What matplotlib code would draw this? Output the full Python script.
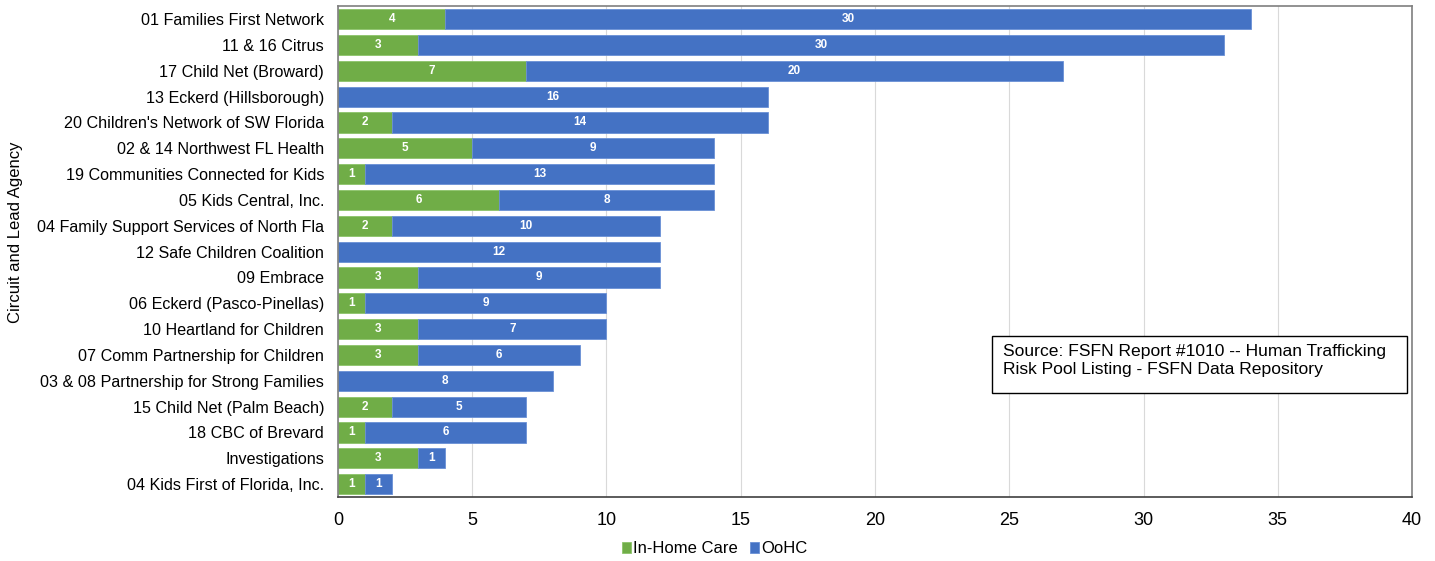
import matplotlib.pyplot as plt
import numpy as np
from matplotlib.patches import Rectangle

agencies = [
    '01 Families First Network', '11 & 16 Citrus', '17 Child Net (Broward)',
    '13 Eckerd (Hillsborough)', "20 Children's Network of SW Florida",
    '02 & 14 Northwest FL Health', '19 Communities Connected for Kids',
    '05 Kids Central, Inc.', '04 Family Support Services of North Fla',
    '12 Safe Children Coalition', '09 Embrace', '06 Eckerd (Pasco-Pinellas)',
    '10 Heartland for Children', '07 Comm Partnership for Children',
    '03 & 08 Partnership for Strong Families', '15 Child Net (Palm Beach)',
    '18 CBC of Brevard', 'Investigations', '04 Kids First of Florida, Inc.',
]
in_home = [4, 3, 7, 0, 2, 5, 1, 6, 2, 0, 3, 1, 3, 3, 0, 2, 1, 3, 1]
oohc = [30, 30, 20, 16, 14, 9, 13, 8, 10, 12, 9, 9, 7, 6, 8, 5, 6, 1, 1]

plt.rcParams['font.family'] = ['Liberation Sans', 'DejaVu Sans']

green = '#70AD47'
blue = '#4472C4'

fig = plt.figure(figsize=(14.35, 5.61), dpi=100)
ax = fig.add_axes([0.2355, 0.114, 0.7485, 0.875])

y = np.arange(len(agencies))
h = 0.78
b1 = ax.barh(y, in_home, height=h, color=green, edgecolor='#8cc46a', linewidth=0.6, label='In-Home Care')
b2 = ax.barh(y, oohc, left=in_home, height=h, color=blue, edgecolor='#6a90d6', linewidth=0.6, label='OoHC')

# value labels inside each segment
for bars, vals in ((b1, in_home), (b2, oohc)):
    for rect, v in zip(bars, vals):
        if v > 0:
            ax.text(rect.get_x() + rect.get_width() / 2, rect.get_y() + rect.get_height() / 2, str(v),
                    ha='center', va='center', color='white', fontsize=8.5, fontweight='bold')

ax.set_xlim(0, 40)
ax.set_ylim(len(agencies) - 0.5, -0.5)
ax.set_xticks(range(0, 41, 5))
ax.set_yticks(y)
ax.set_yticklabels(agencies, fontsize=11.6)
ax.tick_params(axis='x', labelsize=13, length=0, pad=11)
ax.tick_params(axis='y', length=0, pad=10)
ax.xaxis.grid(True, color='#d9d9d9', linewidth=0.8)
ax.set_axisbelow(True)
for s in ax.spines.values():
    s.set_color('#7f7f7f')
    s.set_linewidth(1.2)
ax.spines['bottom'].set_color('#404040')

fig.text(0.0105, 0.586, 'Circuit and Lead Agency', rotation=90, fontsize=12, ha='center', va='center')

# source note box
ax.add_patch(Rectangle((0.609, 0.212), 0.3863, 0.116, transform=ax.transAxes,
                       facecolor='white', edgecolor='black', linewidth=1, zorder=5))
ax.text(0.619, 0.312, 'Source: FSFN Report #1010 -- Human Trafficking\nRisk Pool Listing - FSFN Data Repository',
        transform=ax.transAxes, fontsize=12.6, va='top', ha='left', linespacing=1.3, zorder=6)

fig.legend(handles=[b1, b2], loc='center', bbox_to_anchor=(0.498, 0.022), ncol=2, frameon=False,
           fontsize=12, handlelength=0.55, handleheight=0.6, handletextpad=0.15, columnspacing=0.7)

fig.savefig('out.png', dpi=100)
